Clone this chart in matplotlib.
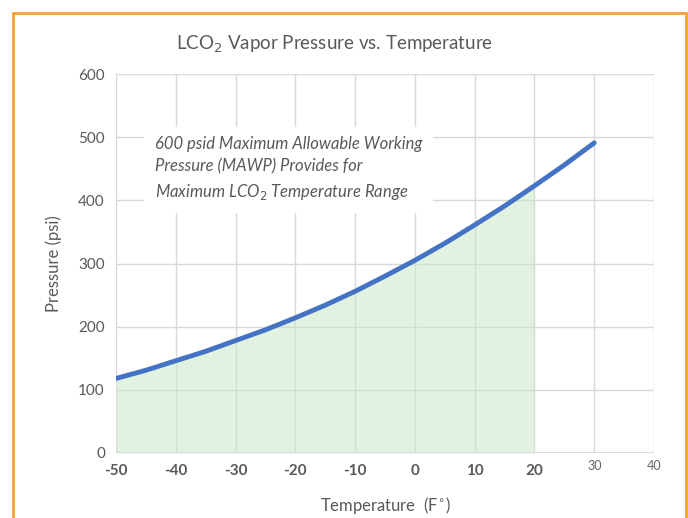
import matplotlib.pyplot as plt
from matplotlib.patches import Rectangle

temps = [-50, -45, -40, -35, -30, -25, -20, -15, -10, -5, 0, 5, 10, 15, 20, 25, 30]
pressure = [118, 131, 146, 161, 178, 195, 214, 234, 256, 280, 305, 332, 361, 391, 423, 456, 491]
fill_end = 20
x_ticks = [-50, -40, -30, -20, -10, 0, 10, 20, 30, 40]
y_ticks = [0, 100, 200, 300, 400, 500, 600]

plt.rcParams['font.family'] = ['Lato', 'DejaVu Sans']
plt.rcParams['axes.unicode_minus'] = False

fig = plt.figure(figsize=(6.88, 5.18), dpi=100)
ax = fig.add_axes([0.1686, 0.1255, 0.782, 0.7316])

# orange frame around the chart
fig.patches.append(Rectangle((13 / 688, -0.05), 673 / 688, 1.0 - 13 / 518 + 0.05,
                             transform=fig.transFigure, fill=False,
                             edgecolor='#f5a03a', linewidth=2))

fx = [t for t in temps if t <= fill_end]
fy = pressure[:len(fx)]
ax.fill_between(fx, 0, fy, color='#c6e7c4', alpha=0.5, linewidth=0, zorder=2)
ax.plot(temps, pressure, color='#4472c4', linewidth=3.5, solid_capstyle='round', zorder=3)

ax.set_xlim(-50, 40)
ax.set_ylim(0, 600)
ax.set_xticks(x_ticks)
ax.set_yticks(y_ticks)
ax.grid(True, color='#d9d9d9', linewidth=1, zorder=0)
ax.set_axisbelow(True)
for s in ax.spines.values():
    s.set_visible(False)
ax.axhline(0, color='#d9d9d9', linewidth=1.5, zorder=2)
ax.tick_params(length=0, pad=8, colors='#595959', labelsize=11)

labels = ax.get_xticklabels()
for lab, t in zip(labels, x_ticks):
    if t > fill_end:
        lab.set_fontsize(9)
        lab.set_color('#666666')
        lab.set_y(0.01)
    else:
        lab.set_fontweight('bold')

ax.set_xlabel('Temperature  (F$^{\\circ}$)', fontsize=12, color='#595959', labelpad=12)
ax.set_ylabel('Pressure (psi)', fontsize=12, color='#595959', labelpad=12)
fig.text(0.487, 0.915, 'LCO$_2$ Vapor Pressure vs. Temperature', ha='center',
         va='center', fontsize=13.5, color='#595959')

ax.text(-43.5, 450,
        '600 psid Maximum Allowable Working\nPressure (MAWP) Provides for\nMaximum LCO$_2$ Temperature Range',
        fontsize=12, style='italic', color='#595959', va='center', ha='left',
        linespacing=1.5, zorder=4,
        bbox=dict(facecolor='white', edgecolor='none', pad=8))

fig.savefig('out.png', dpi=100)
